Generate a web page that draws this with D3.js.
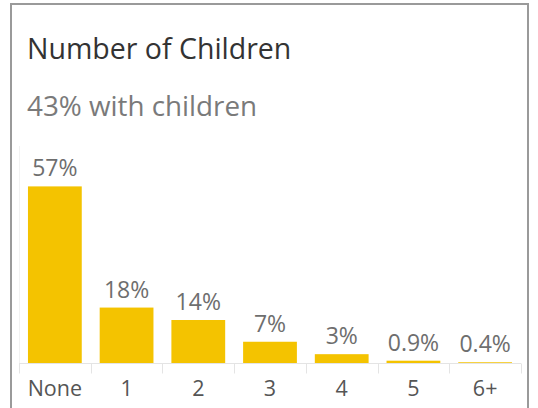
<!DOCTYPE html>
<html>
<head>
<meta charset="utf-8">
<script src="https://cdn.jsdelivr.net/npm/d3@7"></script>
<style>
  html, body { margin: 0; padding: 0; background: #fff; }
  svg { display: block; }
  text { font-family: "Open Sans", "Noto Sans", sans-serif; }
</style>
</head>
<body>
<svg id="chart" width="538" height="408"></svg>
<script>
// Share of households by number of children (percent)
const categories = ["None", "1", "2", "3", "4", "5", "6+"];
const shares = [57, 18, 14, 7, 3, 0.9, 0.4];
const valueLabels = ["57%", "18%", "14%", "7%", "3%", "0.9%", "0.4%"];
const titleText = "Number of Children";
const subtitleText = "43% with children";

const svg = d3.select("#chart");
const W = 538, H = 408;

// card outline (open at the bottom, runs past the view)
svg.append("path")
  .attr("d", `M11,${H + 5} V4 H528 V${H + 5}`)
  .attr("fill", "none")
  .attr("stroke", "#9a9a9a")
  .attr("stroke-width", 2);

svg.append("text")
  .attr("x", 27).attr("y", 59)
  .attr("font-size", 28.5)
  .attr("fill", "#333")
  .text(titleText);

svg.append("text")
  .attr("x", 27).attr("y", 116)
  .attr("font-size", 27.8)
  .attr("fill", "#7a7a7a")
  .text(subtitleText);

const plot = { left: 19, right: 521, top: 146, bottom: 363.5 };

const x = d3.scaleBand()
  .domain(categories)
  .range([plot.left, plot.right])
  .paddingInner(0.25)
  .paddingOuter(0.125);

const y = d3.scaleLinear()
  .domain([0, 70])
  .range([plot.bottom, plot.top]);

// faint left edge of the pane
svg.append("line")
  .attr("x1", plot.left + 0.5).attr("x2", plot.left + 0.5)
  .attr("y1", plot.top).attr("y2", plot.bottom)
  .attr("stroke", "#f2f2f2");

const data = categories.map((c, i) => ({ c, v: shares[i], label: valueLabels[i] }));

svg.append("g").selectAll("rect")
  .data(data)
  .join("rect")
  .attr("x", d => x(d.c))
  .attr("width", x.bandwidth())
  .attr("y", d => y(d.v))
  .attr("height", d => y(0) - y(d.v))
  .attr("fill", "#f4c300");

svg.append("g").selectAll("text")
  .data(data)
  .join("text")
  .attr("x", d => x(d.c) + x.bandwidth() / 2)
  .attr("y", d => y(d.v) - 10)
  .attr("text-anchor", "middle")
  .attr("font-size", 23)
  .attr("fill", "#6e6e6e")
  .text(d => d.label);

// category axis: baseline plus separators between bands
const axis = svg.append("g");
axis.append("line")
  .attr("x1", plot.left).attr("x2", plot.right)
  .attr("y1", plot.bottom).attr("y2", plot.bottom)
  .attr("stroke", "#e4e4e4");

const bounds = d3.range(categories.length + 1).map(i => plot.left + x.step() * i);
axis.selectAll("line.sep")
  .data(bounds)
  .join("line")
  .attr("class", "sep")
  .attr("x1", d => Math.round(d) + 0.5).attr("x2", d => Math.round(d) + 0.5)
  .attr("y1", plot.bottom).attr("y2", plot.bottom + 10)
  .attr("stroke", "#e4e4e4");

axis.selectAll("text")
  .data(categories)
  .join("text")
  .attr("x", d => x(d) + x.bandwidth() / 2)
  .attr("y", 396)
  .attr("text-anchor", "middle")
  .attr("font-size", 21.5)
  .attr("fill", "#555")
  .text(d => d);
</script>
</body>
</html>
